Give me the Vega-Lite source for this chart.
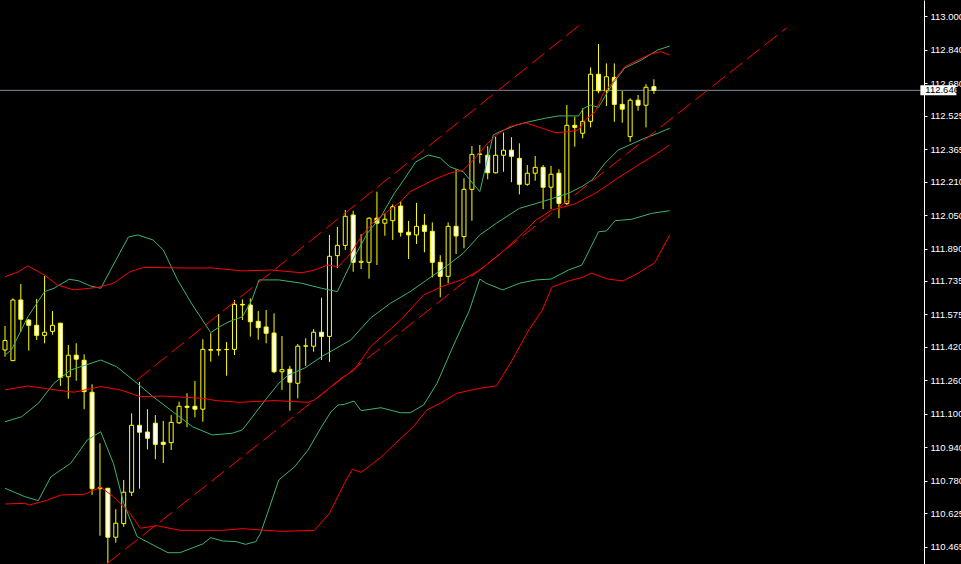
{
"$schema":"https://vega.github.io/schema/vega-lite/v6.json",
"width":924,"height":564,"autosize":{"type":"none"},
"padding":{"left":0,"top":0,"right":37,"bottom":0},
"background":"#000000",
"config":{"view":{"stroke":null},"font":"Liberation Sans",
 "axisY":{"grid":false,"domainColor":"#ffffff","domainWidth":1,"tickColor":"#ffffff","tickSize":3,"labelColor":"#ffffff","labelFont":"Liberation Sans","labelFontSize":9.5,"labelPadding":3,"labelBaseline":"middle","labelOverlap":false,"labelFlush":false,"labelBound":false,"title":null}},
"datasets":{
"candles":[
{"k":0,"o":111.405,"h":111.520,"l":111.373,"c":111.450},
{"k":1,"o":111.354,"h":111.652,"l":111.352,"c":111.644},
{"k":2,"o":111.644,"h":111.720,"l":111.492,"c":111.552},
{"k":3,"o":111.548,"h":111.553,"l":111.402,"c":111.523},
{"k":4,"o":111.523,"h":111.649,"l":111.453,"c":111.475},
{"k":5,"o":111.475,"h":111.759,"l":111.437,"c":111.490},
{"k":6,"o":111.494,"h":111.591,"l":111.478,"c":111.523},
{"k":7,"o":111.533,"h":111.535,"l":111.233,"c":111.273},
{"k":8,"o":111.277,"h":111.429,"l":111.172,"c":111.380},
{"k":9,"o":111.380,"h":111.437,"l":111.258,"c":111.361},
{"k":10,"o":111.356,"h":111.384,"l":111.122,"c":111.206},
{"k":11,"o":111.203,"h":111.241,"l":110.712,"c":110.742},
{"k":12,"o":110.742,"h":110.959,"l":110.517,"c":110.747},
{"k":13,"o":110.744,"h":110.746,"l":110.385,"c":110.510},
{"k":14,"o":110.510,"h":110.644,"l":110.484,"c":110.577},
{"k":15,"o":110.575,"h":110.784,"l":110.560,"c":110.725},
{"k":16,"o":110.725,"h":111.102,"l":110.707,"c":111.045},
{"k":17,"o":111.045,"h":111.252,"l":110.742,"c":111.012},
{"k":18,"o":111.013,"h":111.122,"l":110.930,"c":110.983},
{"k":19,"o":111.055,"h":111.094,"l":110.883,"c":110.954},
{"k":20,"o":110.964,"h":111.066,"l":110.865,"c":110.954},
{"k":21,"o":110.962,"h":111.094,"l":110.927,"c":111.059},
{"k":22,"o":111.057,"h":111.158,"l":111.051,"c":111.136},
{"k":23,"o":111.136,"h":111.198,"l":111.036,"c":111.131},
{"k":24,"o":111.136,"h":111.257,"l":111.083,"c":111.122},
{"k":25,"o":111.122,"h":111.456,"l":111.062,"c":111.408},
{"k":26,"o":111.407,"h":111.485,"l":111.349,"c":111.404},
{"k":27,"o":111.404,"h":111.577,"l":111.378,"c":111.407},
{"k":28,"o":111.407,"h":111.443,"l":111.282,"c":111.408},
{"k":29,"o":111.408,"h":111.644,"l":111.381,"c":111.623},
{"k":30,"o":111.623,"h":111.647,"l":111.548,"c":111.620},
{"k":31,"o":111.620,"h":111.652,"l":111.469,"c":111.540},
{"k":32,"o":111.542,"h":111.591,"l":111.454,"c":111.512},
{"k":33,"o":111.515,"h":111.596,"l":111.437,"c":111.485},
{"k":34,"o":111.486,"h":111.580,"l":111.294,"c":111.301},
{"k":35,"o":111.301,"h":111.472,"l":111.214,"c":111.311},
{"k":36,"o":111.313,"h":111.329,"l":111.115,"c":111.251},
{"k":37,"o":111.246,"h":111.434,"l":111.174,"c":111.423},
{"k":38,"o":111.423,"h":111.461,"l":111.329,"c":111.425},
{"k":39,"o":111.423,"h":111.505,"l":111.397,"c":111.490},
{"k":40,"o":111.490,"h":111.655,"l":111.357,"c":111.470},
{"k":41,"o":111.470,"h":111.955,"l":111.348,"c":111.853},
{"k":42,"o":111.856,"h":111.993,"l":111.796,"c":111.905},
{"k":43,"o":111.905,"h":112.074,"l":111.883,"c":112.044},
{"k":44,"o":112.050,"h":112.070,"l":111.779,"c":111.824},
{"k":45,"o":111.824,"h":111.959,"l":111.792,"c":111.829},
{"k":46,"o":111.824,"h":112.039,"l":111.746,"c":112.035},
{"k":47,"o":112.035,"h":112.162,"l":111.811,"c":112.011},
{"k":48,"o":112.011,"h":112.058,"l":111.951,"c":112.030},
{"k":49,"o":112.023,"h":112.101,"l":111.931,"c":112.090},
{"k":50,"o":112.093,"h":112.116,"l":111.947,"c":111.968},
{"k":51,"o":111.968,"h":112.022,"l":111.840,"c":111.955},
{"k":52,"o":111.955,"h":112.108,"l":111.912,"c":111.996},
{"k":53,"o":112.001,"h":112.055,"l":111.872,"c":111.972},
{"k":54,"o":111.972,"h":112.015,"l":111.752,"c":111.824},
{"k":55,"o":111.824,"h":111.858,"l":111.657,"c":111.757},
{"k":56,"o":111.757,"h":112.015,"l":111.724,"c":111.996},
{"k":57,"o":111.996,"h":112.269,"l":111.864,"c":111.950},
{"k":58,"o":111.947,"h":112.226,"l":111.891,"c":112.173},
{"k":59,"o":112.173,"h":112.380,"l":112.023,"c":112.340},
{"k":60,"o":112.340,"h":112.385,"l":112.297,"c":112.342},
{"k":61,"o":112.336,"h":112.380,"l":112.221,"c":112.252},
{"k":62,"o":112.252,"h":112.425,"l":112.249,"c":112.336},
{"k":63,"o":112.336,"h":112.444,"l":112.257,"c":112.360},
{"k":64,"o":112.360,"h":112.422,"l":112.207,"c":112.331},
{"k":65,"o":112.321,"h":112.393,"l":112.149,"c":112.197},
{"k":66,"o":112.197,"h":112.289,"l":112.190,"c":112.250},
{"k":67,"o":112.250,"h":112.332,"l":112.214,"c":112.278},
{"k":68,"o":112.278,"h":112.289,"l":112.078,"c":112.183},
{"k":69,"o":112.183,"h":112.285,"l":112.078,"c":112.245},
{"k":70,"o":112.250,"h":112.269,"l":112.035,"c":112.106},
{"k":71,"o":112.106,"h":112.576,"l":112.098,"c":112.479},
{"k":72,"o":112.479,"h":112.520,"l":112.377,"c":112.469},
{"k":73,"o":112.441,"h":112.560,"l":112.417,"c":112.498},
{"k":74,"o":112.498,"h":112.756,"l":112.469,"c":112.723},
{"k":75,"o":112.723,"h":112.868,"l":112.632,"c":112.644},
{"k":76,"o":112.644,"h":112.775,"l":112.571,"c":112.711},
{"k":77,"o":112.708,"h":112.775,"l":112.496,"c":112.579},
{"k":78,"o":112.579,"h":112.643,"l":112.491,"c":112.556},
{"k":79,"o":112.425,"h":112.608,"l":112.401,"c":112.599},
{"k":80,"o":112.599,"h":112.624,"l":112.549,"c":112.575},
{"k":81,"o":112.575,"h":112.676,"l":112.469,"c":112.661},
{"k":82,"o":112.664,"h":112.699,"l":112.629,"c":112.646}
],
"bands":[
{"s":"GU","k":0,"p":111.381},{"s":"GU","k":0.8,"p":111.405},{"s":"GU","k":2.9,"p":111.564},{"s":"GU","k":5.0,"p":111.684},{"s":"GU","k":6.2,"p":111.700},{"s":"GU","k":8.1,"p":111.743},{"s":"GU","k":9.3,"p":111.736},{"s":"GU","k":10.8,"p":111.711},{"s":"GU","k":12.1,"p":111.700},{"s":"GU","k":14.7,"p":111.883},{"s":"GU","k":15.6,"p":111.945},{"s":"GU","k":16.8,"p":111.955},{"s":"GU","k":18.7,"p":111.931},{"s":"GU","k":20.0,"p":111.883},{"s":"GU","k":21.8,"p":111.740},{"s":"GU","k":23.7,"p":111.620},{"s":"GU","k":26.0,"p":111.488},{"s":"GU","k":27.1,"p":111.516},{"s":"GU","k":28.3,"p":111.540},{"s":"GU","k":30.0,"p":111.564},{"s":"GU","k":31.2,"p":111.644},{"s":"GU","k":32.1,"p":111.740},{"s":"GU","k":34.6,"p":111.740},{"s":"GU","k":37.5,"p":111.724},{"s":"GU","k":40.0,"p":111.700},{"s":"GU","k":42.0,"p":111.684},{"s":"GU","k":43.7,"p":111.819},{"s":"GU","k":45.8,"p":111.963},{"s":"GU","k":47.5,"p":112.042},{"s":"GU","k":49.2,"p":112.154},{"s":"GU","k":50.4,"p":112.218},{"s":"GU","k":51.9,"p":112.304},{"s":"GU","k":53.5,"p":112.337},{"s":"GU","k":55.0,"p":112.323},{"s":"GU","k":56.2,"p":112.281},{"s":"GU","k":57.9,"p":112.257},{"s":"GU","k":60.0,"p":112.162},{"s":"GU","k":61.7,"p":112.433},{"s":"GU","k":62.5,"p":112.448},{"s":"GU","k":64.6,"p":112.480},{"s":"GU","k":66.2,"p":112.496},{"s":"GU","k":68.3,"p":112.513},{"s":"GU","k":70.0,"p":112.524},{"s":"GU","k":72.5,"p":112.524},{"s":"GU","k":73.1,"p":112.560},{"s":"GU","k":74.0,"p":112.576},{"s":"GU","k":75.0,"p":112.565},{"s":"GU","k":76.7,"p":112.672},{"s":"GU","k":78.3,"p":112.752},{"s":"GU","k":80.4,"p":112.791},{"s":"GU","k":82.5,"p":112.839},{"s":"GU","k":84.0,"p":112.858},
{"s":"GM","k":0,"p":111.062},{"s":"GM","k":2.1,"p":111.086},{"s":"GM","k":4.2,"p":111.150},{"s":"GM","k":6.2,"p":111.246},{"s":"GM","k":8.3,"p":111.309},{"s":"GM","k":12.1,"p":111.357},{"s":"GM","k":14.1,"p":111.325},{"s":"GM","k":16.7,"p":111.246},{"s":"GM","k":18.7,"p":111.182},{"s":"GM","k":21.2,"p":111.110},{"s":"GM","k":23.7,"p":111.038},{"s":"GM","k":26.2,"p":110.999},{"s":"GM","k":28.7,"p":111.007},{"s":"GM","k":30.0,"p":111.023},{"s":"GM","k":32.9,"p":111.166},{"s":"GM","k":34.6,"p":111.246},{"s":"GM","k":35.8,"p":111.285},{"s":"GM","k":37.9,"p":111.319},{"s":"GM","k":40.0,"p":111.373},{"s":"GM","k":43.7,"p":111.453},{"s":"GM","k":46.2,"p":111.558},{"s":"GM","k":48.7,"p":111.628},{"s":"GM","k":51.2,"p":111.684},{"s":"GM","k":53.3,"p":111.740},{"s":"GM","k":55.4,"p":111.795},{"s":"GM","k":57.9,"p":111.867},{"s":"GM","k":60.0,"p":111.955},{"s":"GM","k":62.1,"p":112.011},{"s":"GM","k":65.0,"p":112.082},{"s":"GM","k":67.9,"p":112.114},{"s":"GM","k":71.2,"p":112.154},{"s":"GM","k":72.9,"p":112.186},{"s":"GM","k":74.2,"p":112.218},{"s":"GM","k":75.8,"p":112.297},{"s":"GM","k":77.5,"p":112.361},{"s":"GM","k":80.8,"p":112.417},{"s":"GM","k":82.5,"p":112.441},{"s":"GM","k":84.0,"p":112.465},
{"s":"GL","k":0,"p":110.744},{"s":"GL","k":2.5,"p":110.704},{"s":"GL","k":4.2,"p":110.685},{"s":"GL","k":5.8,"p":110.799},{"s":"GL","k":8.3,"p":110.863},{"s":"GL","k":10.4,"p":110.975},{"s":"GL","k":12.1,"p":111.014},{"s":"GL","k":13.7,"p":110.863},{"s":"GL","k":15.0,"p":110.672},{"s":"GL","k":16.7,"p":110.513},{"s":"GL","k":18.3,"p":110.481},{"s":"GL","k":20.6,"p":110.436},{"s":"GL","k":22.1,"p":110.436},{"s":"GL","k":25.0,"p":110.478},{"s":"GL","k":26.0,"p":110.508},{"s":"GL","k":27.5,"p":110.492},{"s":"GL","k":29.2,"p":110.489},{"s":"GL","k":30.4,"p":110.476},{"s":"GL","k":31.7,"p":110.489},{"s":"GL","k":32.3,"p":110.529},{"s":"GL","k":33.3,"p":110.640},{"s":"GL","k":34.6,"p":110.784},{"s":"GL","k":35.2,"p":110.803},{"s":"GL","k":36.6,"p":110.847},{"s":"GL","k":38.3,"p":110.927},{"s":"GL","k":40.0,"p":111.038},{"s":"GL","k":41.2,"p":111.110},{"s":"GL","k":42.1,"p":111.142},{"s":"GL","k":42.9,"p":111.145},{"s":"GL","k":44.1,"p":111.161},{"s":"GL","k":45.0,"p":111.115},{"s":"GL","k":47.5,"p":111.129},{"s":"GL","k":50.0,"p":111.105},{"s":"GL","k":51.2,"p":111.105},{"s":"GL","k":52.9,"p":111.142},{"s":"GL","k":54.6,"p":111.246},{"s":"GL","k":56.6,"p":111.421},{"s":"GL","k":58.7,"p":111.596},{"s":"GL","k":60.0,"p":111.744},{"s":"GL","k":60.8,"p":111.724},{"s":"GL","k":62.9,"p":111.692},{"s":"GL","k":65.0,"p":111.724},{"s":"GL","k":67.1,"p":111.740},{"s":"GL","k":69.0,"p":111.744},{"s":"GL","k":71.2,"p":111.787},{"s":"GL","k":72.9,"p":111.811},{"s":"GL","k":75.0,"p":111.970},{"s":"GL","k":76.0,"p":111.974},{"s":"GL","k":77.1,"p":112.023},{"s":"GL","k":79.2,"p":112.030},{"s":"GL","k":81.7,"p":112.058},{"s":"GL","k":84.0,"p":112.071},
{"s":"RU","k":0,"p":111.755},{"s":"RU","k":1.7,"p":111.779},{"s":"RU","k":2.9,"p":111.807},{"s":"RU","k":5.0,"p":111.763},{"s":"RU","k":6.6,"p":111.716},{"s":"RU","k":8.7,"p":111.692},{"s":"RU","k":11.8,"p":111.705},{"s":"RU","k":13.7,"p":111.724},{"s":"RU","k":15.8,"p":111.779},{"s":"RU","k":17.5,"p":111.800},{"s":"RU","k":22.5,"p":111.797},{"s":"RU","k":26.2,"p":111.797},{"s":"RU","k":30.0,"p":111.783},{"s":"RU","k":33.7,"p":111.787},{"s":"RU","k":37.5,"p":111.774},{"s":"RU","k":39.1,"p":111.787},{"s":"RU","k":40.8,"p":111.811},{"s":"RU","k":42.1,"p":111.803},{"s":"RU","k":43.7,"p":111.867},{"s":"RU","k":45.0,"p":111.947},{"s":"RU","k":46.6,"p":112.018},{"s":"RU","k":48.3,"p":112.066},{"s":"RU","k":50.0,"p":112.114},{"s":"RU","k":51.2,"p":112.162},{"s":"RU","k":52.9,"p":112.194},{"s":"RU","k":54.1,"p":112.218},{"s":"RU","k":56.2,"p":112.250},{"s":"RU","k":57.9,"p":112.265},{"s":"RU","k":59.6,"p":112.329},{"s":"RU","k":60.8,"p":112.385},{"s":"RU","k":62.1,"p":112.433},{"s":"RU","k":63.7,"p":112.472},{"s":"RU","k":65.8,"p":112.491},{"s":"RU","k":67.9,"p":112.465},{"s":"RU","k":69.5,"p":112.444},{"s":"RU","k":71.2,"p":112.448},{"s":"RU","k":72.5,"p":112.457},{"s":"RU","k":73.3,"p":112.504},{"s":"RU","k":74.6,"p":112.544},{"s":"RU","k":75.6,"p":112.632},{"s":"RU","k":76.7,"p":112.680},{"s":"RU","k":78.3,"p":112.759},{"s":"RU","k":80.0,"p":112.791},{"s":"RU","k":81.6,"p":112.820},{"s":"RU","k":82.9,"p":112.831},{"s":"RU","k":84.0,"p":112.815},
{"s":"RM","k":0,"p":111.214},{"s":"RM","k":2.9,"p":111.233},{"s":"RM","k":5.8,"p":111.217},{"s":"RM","k":8.7,"p":111.203},{"s":"RM","k":12.1,"p":111.230},{"s":"RM","k":14.6,"p":111.214},{"s":"RM","k":17.1,"p":111.182},{"s":"RM","k":20.0,"p":111.185},{"s":"RM","k":25.0,"p":111.174},{"s":"RM","k":26.7,"p":111.163},{"s":"RM","k":29.6,"p":111.155},{"s":"RM","k":34.1,"p":111.163},{"s":"RM","k":38.3,"p":111.155},{"s":"RM","k":39.1,"p":111.166},{"s":"RM","k":42.5,"p":111.270},{"s":"RM","k":44.1,"p":111.309},{"s":"RM","k":46.2,"p":111.421},{"s":"RM","k":50.0,"p":111.548},{"s":"RM","k":52.9,"p":111.668},{"s":"RM","k":55.4,"p":111.711},{"s":"RM","k":57.9,"p":111.743},{"s":"RM","k":60.0,"p":111.787},{"s":"RM","k":62.9,"p":111.875},{"s":"RM","k":65.4,"p":111.963},{"s":"RM","k":67.1,"p":112.026},{"s":"RM","k":69.1,"p":112.074},{"s":"RM","k":72.0,"p":112.103},{"s":"RM","k":74.6,"p":112.154},{"s":"RM","k":77.1,"p":112.218},{"s":"RM","k":80.0,"p":112.289},{"s":"RM","k":82.1,"p":112.337},{"s":"RM","k":84.0,"p":112.385},
{"s":"RL","k":0,"p":110.669},{"s":"RL","k":2.5,"p":110.672},{"s":"RL","k":3.1,"p":110.664},{"s":"RL","k":5.4,"p":110.688},{"s":"RL","k":7.1,"p":110.712},{"s":"RL","k":10.0,"p":110.715},{"s":"RL","k":12.1,"p":110.749},{"s":"RL","k":13.7,"p":110.704},{"s":"RL","k":15.8,"p":110.624},{"s":"RL","k":17.1,"p":110.553},{"s":"RL","k":19.2,"p":110.565},{"s":"RL","k":22.1,"p":110.543},{"s":"RL","k":27.5,"p":110.543},{"s":"RL","k":30.0,"p":110.551},{"s":"RL","k":32.1,"p":110.545},{"s":"RL","k":35.0,"p":110.538},{"s":"RL","k":39.1,"p":110.543},{"s":"RL","k":41.0,"p":110.624},{"s":"RL","k":42.9,"p":110.768},{"s":"RL","k":43.9,"p":110.835},{"s":"RL","k":45.0,"p":110.820},{"s":"RL","k":47.5,"p":110.892},{"s":"RL","k":49.8,"p":110.975},{"s":"RL","k":51.6,"p":111.038},{"s":"RL","k":53.3,"p":111.118},{"s":"RL","k":55.0,"p":111.150},{"s":"RL","k":57.1,"p":111.198},{"s":"RL","k":60.0,"p":111.222},{"s":"RL","k":62.1,"p":111.233},{"s":"RL","k":64.1,"p":111.357},{"s":"RL","k":66.2,"p":111.501},{"s":"RL","k":67.9,"p":111.596},{"s":"RL","k":69.1,"p":111.705},{"s":"RL","k":71.2,"p":111.735},{"s":"RL","k":72.9,"p":111.751},{"s":"RL","k":74.1,"p":111.772},{"s":"RL","k":76.2,"p":111.744},{"s":"RL","k":78.1,"p":111.735},{"s":"RL","k":80.0,"p":111.772},{"s":"RL","k":82.1,"p":111.822},{"s":"RL","k":84.0,"p":111.955}
],
"channel":[
{"s":"up","k":16.7,"p":111.262},{"s":"up","k":73.1,"p":112.973},
{"s":"dn","k":13.0,"p":110.387},{"s":"dn","k":98.75,"p":112.944}
],
"last":[{"price":112.646}]
},
"layer":[
{"data":{"name":"last"},"mark":{"type":"rule","color":"#7a8899","strokeWidth":1},
 "encoding":{"y":{"field":"price","type":"quantitative","scale":{"domain":[110.382,113.078],"nice":false,"zero":false},"title":null,"axis":{"orient":"right","labelOverlap":false,"format":".3f","values":[113.0,112.84,112.68,112.525,112.365,112.21,112.05,111.89,111.735,111.575,111.42,111.26,111.1,110.94,110.78,110.625,110.465]}}}},
{"data":{"name":"candles"},"mark":{"type":"rule","color":"#ffff00","strokeWidth":1},
 "encoding":{"x":{"field":"k","type":"quantitative","scale":{"domain":[0,115.5],"nice":false,"zero":false},"axis":null},
  "y":{"field":"h","type":"quantitative","scale":{"domain":[110.382,113.078],"nice":false,"zero":false},"title":null,"axis":{"orient":"right","labelOverlap":false,"format":".3f","values":[113.0,112.84,112.68,112.525,112.365,112.21,112.05,111.89,111.735,111.575,111.42,111.26,111.1,110.94,110.78,110.625,110.465]}},
  "y2":{"field":"l"}}},
{"data":{"name":"candles"},"mark":{"type":"bar","orient":"vertical","width":4,"stroke":"#ffff00","strokeWidth":1},
 "encoding":{"x":{"field":"k","type":"quantitative","scale":{"domain":[0,115.5],"nice":false,"zero":false},"axis":null},
  "y":{"field":"o","type":"quantitative","scale":{"domain":[110.382,113.078],"nice":false,"zero":false},"title":null,"axis":{"orient":"right","labelOverlap":false,"format":".3f","values":[113.0,112.84,112.68,112.525,112.365,112.21,112.05,111.89,111.735,111.575,111.42,111.26,111.1,110.94,110.78,110.625,110.465]}},
  "y2":{"field":"c"},
  "fill":{"condition":{"test":"datum.c < datum.o","value":"#ffffff"},"value":"#000000"}}},
{"data":{"name":"bands"},"mark":{"type":"line","strokeWidth":1},
 "encoding":{"x":{"field":"k","type":"quantitative","scale":{"domain":[0,115.5],"nice":false,"zero":false},"axis":null},
  "y":{"field":"p","type":"quantitative","scale":{"domain":[110.382,113.078],"nice":false,"zero":false},"title":null,"axis":{"orient":"right","labelOverlap":false,"format":".3f","values":[113.0,112.84,112.68,112.525,112.365,112.21,112.05,111.89,111.735,111.575,111.42,111.26,111.1,110.94,110.78,110.625,110.465]}},
  "detail":{"field":"s"},
  "color":{"field":"s","type":"nominal","scale":{"domain":["GU","GM","GL","RU","RM","RL"],"range":["#3cb371","#3cb371","#3cb371","#ff0000","#ff0000","#ff0000"]},"legend":null}}},
{"data":{"name":"channel"},"mark":{"type":"line","strokeWidth":1,"color":"#ff0000","strokeDash":[16,6]},
 "encoding":{"x":{"field":"k","type":"quantitative","scale":{"domain":[0,115.5],"nice":false,"zero":false},"axis":null},
  "y":{"field":"p","type":"quantitative","scale":{"domain":[110.382,113.078],"nice":false,"zero":false},"title":null,"axis":{"orient":"right","labelOverlap":false,"format":".3f","values":[113.0,112.84,112.68,112.525,112.365,112.21,112.05,111.89,111.735,111.575,111.42,111.26,111.1,110.94,110.78,110.625,110.465]}},
  "detail":{"field":"s"}}},
{"data":{"name":"last"},"mark":{"type":"tick","orient":"horizontal","color":"#ffffff","size":36,"thickness":10,"opacity":1},
 "encoding":{"x":{"datum":117.95,"type":"quantitative","scale":{"domain":[0,115.5],"nice":false,"zero":false},"axis":null},
  "y":{"field":"price","type":"quantitative","scale":{"domain":[110.382,113.078],"nice":false,"zero":false},"title":null,"axis":{"orient":"right","labelOverlap":false,"format":".3f","values":[113.0,112.84,112.68,112.525,112.365,112.21,112.05,111.89,111.735,111.575,111.42,111.26,111.1,110.94,110.78,110.625,110.465]}}}},
{"data":{"name":"last"},"mark":{"type":"text","align":"left","baseline":"middle","color":"#000000","font":"Liberation Sans","fontSize":9.5},
 "encoding":{"x":{"datum":116.3,"type":"quantitative","scale":{"domain":[0,115.5],"nice":false,"zero":false},"axis":null},
  "y":{"field":"price","type":"quantitative","scale":{"domain":[110.382,113.078],"nice":false,"zero":false},"title":null,"axis":{"orient":"right","labelOverlap":false,"format":".3f","values":[113.0,112.84,112.68,112.525,112.365,112.21,112.05,111.89,111.735,111.575,111.42,111.26,111.1,110.94,110.78,110.625,110.465]}},
  "text":{"field":"price","format":".3f"}}}
]
}
